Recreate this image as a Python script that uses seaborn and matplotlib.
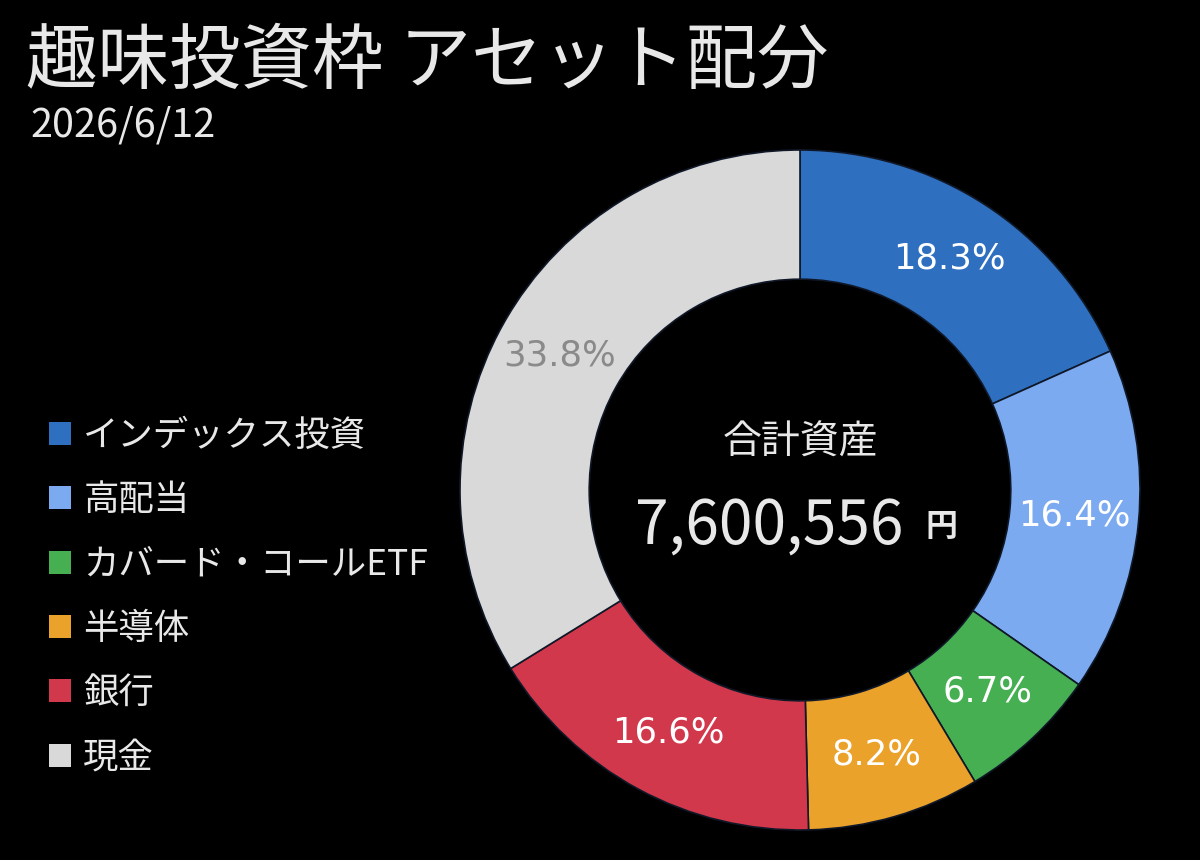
import matplotlib
matplotlib.use('Agg')
import matplotlib.pyplot as plt
import seaborn as sns
import numpy as np
from matplotlib.patches import Patch

# data
categories = ['インデックス投資', '高配当', 'カバード・コールETF', '半導体', '銀行', '現金']
shares = [18.3, 16.4, 6.7, 8.2, 16.6, 33.8]
colors = ['#2E6FC0', '#7BAAF0', '#45AF51', '#EBA22B', '#D2384B', '#D9D9D9']
label_colors = ['white', 'white', 'white', 'white', 'white', '#8A8A8A']
title = '趣味投資枠 アセット配分'
date_text = '2026/6/12'
total_label = '合計資産'
total_value = '7,600,556'

sns.set_theme(style='dark')
plt.rcParams['font.family'] = ['Noto Sans CJK JP', 'DejaVu Sans']
text_color = '#E8E8E8'

fig = plt.figure(figsize=(12, 8.6), dpi=100, facecolor='black')
ax = fig.add_axes([460 / 1200, 30 / 860, 680 / 1200, 680 / 860])
ax.set_facecolor('black')

wedges, texts = ax.pie(shares, colors=colors, startangle=90, counterclock=False,
                       radius=1.0, wedgeprops=dict(width=0.38, edgecolor='#101828', linewidth=1.2))

# percentage labels in the middle of the ring
for w, val, lc in zip(wedges, shares, label_colors):
    ang = np.deg2rad((w.theta1 + w.theta2) / 2)
    r = 0.81
    ax.text(r * np.cos(ang), r * np.sin(ang), f'{val:.1f}%', ha='center', va='center',
            fontsize=25.5, color=lc, family=['DejaVu Sans'])

ax.text(0, 0.14, total_label, ha='center', va='center', fontsize=28, color=text_color)
ax.text(-0.09, -0.11, total_value, ha='center', va='center', fontsize=43.5, color=text_color)
ax.text(0.415, -0.11, '円', ha='center', va='center', fontsize=23, color=text_color, fontweight='bold')
ax.set_xlim(-1, 1)
ax.set_ylim(-1, 1)
ax.set_aspect('equal')
ax.axis('off')

fig.text(26 / 1200, 1 - 62 / 860, title, fontsize=51.5, color=text_color, va='center', ha='left')
fig.text(30 / 1200, 1 - 126 / 860, date_text, fontsize=28.5, color=text_color, va='center', ha='left')

handles = [Patch(facecolor=c, edgecolor='none') for c in colors]
leg = fig.legend(handles, categories, loc='upper left', bbox_to_anchor=(17 / 1200, 1 - 386 / 860),
                 frameon=False, fontsize=25.5, labelcolor=text_color, handlelength=0.62, handleheight=0.62,
                 handletextpad=0.35, labelspacing=0.8)

fig.savefig('out.png', dpi=100, facecolor='black')
